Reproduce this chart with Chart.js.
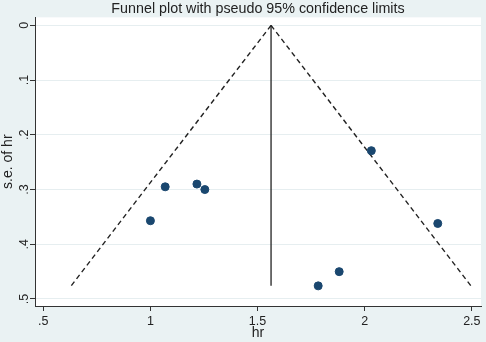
<!DOCTYPE html>
<html lang="en">
<head>
  <meta charset="UTF-8">
  <title>Funnel plot</title>
  <script src="https://cdn.jsdelivr.net/npm/chart.js"></script>
  <style>
    body { margin: 0; background: #eaf2f3; }
    canvas { display: block; }
  </style>
</head>
<body>
  <canvas id="myChart" width="486" height="342"></canvas>

  <script>
    // study estimates
    const hr = [1.00, 1.069, 1.217, 1.254, 2.031, 2.341, 1.783, 1.881];
    const se = [0.357, 0.295, 0.290, 0.300, 0.229, 0.362, 0.476, 0.450];

    // pooled estimate line and pseudo 95% limits (apex -> bottom)
    const pooledX = [1.563, 1.563];
    const pooledY = [0, 0.476];
    const lowerX = [1.563, 0.630];
    const upperX = [1.563, 2.496];
    const limitY = [0, 0.476];

    const xTicks = [0.5, 1, 1.5, 2, 2.5];
    const xLabels = ['.5', '1', '1.5', '2', '2.5'];
    const yTicks = [0, 0.1, 0.2, 0.3, 0.4, 0.5];
    const yLabels = ['0', '.1', '.2', '.3', '.4', '.5'];

    const FONT = "'Liberation Sans', Arial, sans-serif";
    const ink = '#222222';

    const pts = (xs, ys) => xs.map((x, i) => ({ x, y: ys[i] }));

    const plotBg = {
      id: 'plotBg',
      beforeDraw(chart) {
        const { ctx, chartArea: a } = chart;
        ctx.save();
        ctx.fillStyle = '#eaf2f3';
        ctx.fillRect(0, 0, chart.width, chart.height);
        ctx.fillStyle = '#ffffff';
        ctx.fillRect(a.left, a.top, a.right - a.left, a.bottom - a.top);
        ctx.restore();
      }
    };

    const ctx = document.getElementById('myChart').getContext('2d');
    new Chart(ctx, {
      type: 'scatter',
      data: {
        datasets: [
          {
            label: 'studies',
            data: pts(hr, se),
            backgroundColor: '#1a476f',
            borderColor: '#1a476f',
            pointRadius: 4,
            order: 0
          },
          {
            label: 'pooled',
            data: pts(pooledX, pooledY),
            showLine: true,
            borderColor: ink,
            borderWidth: 1.3,
            pointRadius: 0,
            order: 1
          },
          {
            label: 'lower',
            data: pts(lowerX, limitY),
            showLine: true,
            borderColor: ink,
            borderWidth: 1.4,
            borderDash: [5, 3.5],
            pointRadius: 0,
            order: 1
          },
          {
            label: 'upper',
            data: pts(upperX, limitY),
            showLine: true,
            borderColor: ink,
            borderWidth: 1.4,
            borderDash: [5, 3.5],
            pointRadius: 0,
            order: 1
          }
        ]
      },
      options: {
        responsive: false,
        animation: false,
        layout: { padding: { left: 0, right: 3, top: 0, bottom: 0 } },
        plugins: {
          legend: { display: false },
          tooltip: { enabled: false },
          title: {
            display: true,
            fullSize: false,
            text: 'Funnel plot with pseudo 95% confidence limits',
            color: ink,
            font: { family: FONT, size: 14.3, weight: 'normal', lineHeight: 1.2 },
            padding: { top: 0, bottom: 0.2 }
          }
        },
        scales: {
          x: {
            type: 'linear',
            min: 0.4614,
            max: 2.5428,
            afterBuildTicks: s => { s.ticks = xTicks.map(v => ({ value: v })); },
            afterFit: s => { s.height = 36; },
            ticks: {
              color: ink,
              padding: 3,
              font: { family: FONT, size: 12.5, lineHeight: 1.2 },
              callback: (v) => xLabels[xTicks.indexOf(v)]
            },
            grid: { drawOnChartArea: false, tickLength: 5, tickColor: '#333333' },
            border: { color: '#333333', width: 1 },
            title: {
              display: true,
              text: 'hr',
              color: ink,
              font: { family: FONT, size: 14, lineHeight: 1.2 },
              padding: { top: 0, bottom: 0 }
            }
          },
          y: {
            type: 'linear',
            reverse: true,
            min: -0.0146,
            max: 0.5128,
            afterBuildTicks: s => { s.ticks = yTicks.map(v => ({ value: v })); },
            afterFit: s => { s.width = 35; },
            ticks: {
              color: ink,
              padding: 0,
              minRotation: 90,
              maxRotation: 90,
              crossAlign: 'center',
              font: { family: FONT, size: 12.5, lineHeight: 1.2 },
              callback: (v) => yLabels[yTicks.indexOf(v)]
            },
            grid: { color: '#e6eef0', lineWidth: 1, tickLength: 5, tickColor: '#333333' },
            border: { color: '#333333', width: 1 },
            title: {
              display: true,
              text: 's.e. of hr',
              color: ink,
              font: { family: FONT, size: 14, lineHeight: 1.2 },
              padding: { top: 0, bottom: 0 }
            }
          }
        }
      },
      plugins: [plotBg]
    });
  </script>
</body>
</html>
